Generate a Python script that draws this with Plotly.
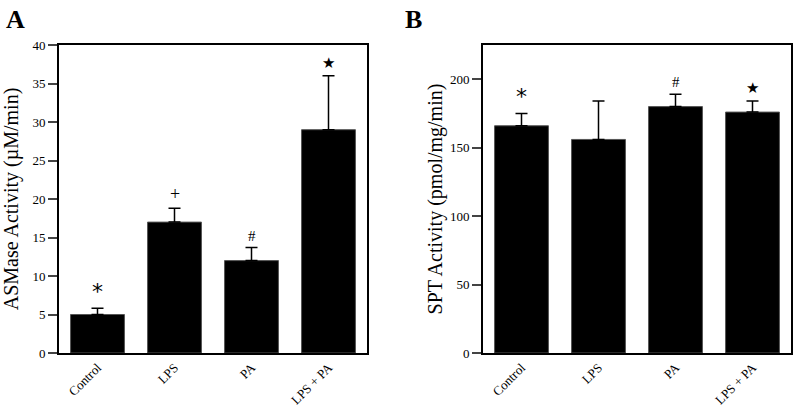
import plotly.graph_objects as go

categories = ["Control", "LPS", "PA", "LPS + PA"]

asmase_values = [5.0, 17.0, 12.0, 29.0]
asmase_errors = [0.8, 1.8, 1.7, 7.0]
asmase_marks = ["*", "+", "#", "★"]

spt_values = [166.0, 156.0, 180.0, 176.0]
spt_errors = [9.0, 28.0, 9.0, 8.0]
spt_marks = ["*", "", "#", "★"]

asmase_ticks = [0, 5, 10, 15, 20, 25, 30, 35, 40]
spt_ticks = [0, 50, 100, 150, 200]

FONT = "Liberation Serif, Times New Roman, serif"
W, H = 794, 407

fig = go.Figure()

def add_panel(values, errors, xa, ya):
    fig.add_trace(go.Bar(
        x=categories, y=values, xaxis=xa, yaxis=ya, width=0.7,
        marker=dict(color="black", line=dict(color="#555555", width=1)),
        error_y=dict(type="data", symmetric=False, array=errors,
                     arrayminus=[0] * len(errors), color="black",
                     thickness=1.5, width=6),
        showlegend=False, hoverinfo="skip",
    ))

add_panel(asmase_values, asmase_errors, "x", "y")
add_panel(spt_values, spt_errors, "x2", "y2")

def px_x(p):
    return p / W

def px_y(p):
    return 1 - p / H

top, bottom = px_y(45), px_y(353)

axis_common = dict(showline=True, linecolor="black", linewidth=2, mirror=True,
                   showgrid=False, zeroline=False, automargin=False)
tf = dict(size=13, family=FONT, color="black")
xtf = dict(size=13, family=FONT, color="black")

fig.update_layout(
    width=W, height=H, margin=dict(l=0, r=0, t=0, b=0),
    plot_bgcolor="white", paper_bgcolor="white",
    font=dict(family=FONT, color="black"),
    bargap=0.3,
    xaxis=dict(domain=[px_x(59), px_x(367)], anchor="y", range=[-0.5, 3.5],
               tickangle=-45, ticks="", tickfont=xtf, **axis_common),
    yaxis=dict(domain=[bottom, top], anchor="x", range=[0, 40],
               tickvals=asmase_ticks, ticks="outside", ticklen=9, tickwidth=2,
               tickfont=tf,
               title=dict(text="ASMase Activity (µM/min)", font=dict(size=20, family=FONT, color="black"), standoff=8),
               **axis_common),
    xaxis2=dict(domain=[px_x(483), px_x(791)], anchor="y2", range=[-0.5, 3.5],
                tickangle=-45, ticks="", tickfont=xtf, **axis_common),
    yaxis2=dict(domain=[bottom, top], anchor="x2", range=[0, 225],
                tickvals=spt_ticks, ticks="outside", ticklen=9, tickwidth=2,
                tickfont=tf, ticksuffix="  ",
                title=dict(text="SPT Activity (pmol/mg/min)", font=dict(size=20, family=FONT, color="black"), standoff=2),
                **axis_common),
)

def add_marks(values, errors, marks, xref, yref):
    for c, v, e, m in zip(categories, values, errors, marks):
        if not m:
            continue
        if m == "*":
            size, fam = 22, "DejaVu Sans"
        elif m == "★":
            size, fam = 15, "DejaVu Sans"
        elif m == "+":
            size, fam = 18, FONT
        else:
            size, fam = 15, FONT
        fig.add_annotation(x=c, y=v + e, xref=xref, yref=yref, text=m,
                           showarrow=False, yanchor="bottom", yshift=2,
                           font=dict(size=size, family=fam, color="black"))

add_marks(asmase_values, asmase_errors, asmase_marks, "x", "y")
add_marks(spt_values, spt_errors, spt_marks, "x2", "y2")

for label, xp in (("A", 15), ("B", 413)):
    fig.add_annotation(x=px_x(xp), y=px_y(19), xref="paper", yref="paper",
                       text="<b>%s</b>" % label, showarrow=False,
                       xanchor="center", yanchor="middle",
                       font=dict(size=26, family=FONT, color="black"))

fig.write_html("out.html", config={"displayModeBar": False},
               post_script="document.body.style.margin='0';document.body.style.overflow='hidden';")
